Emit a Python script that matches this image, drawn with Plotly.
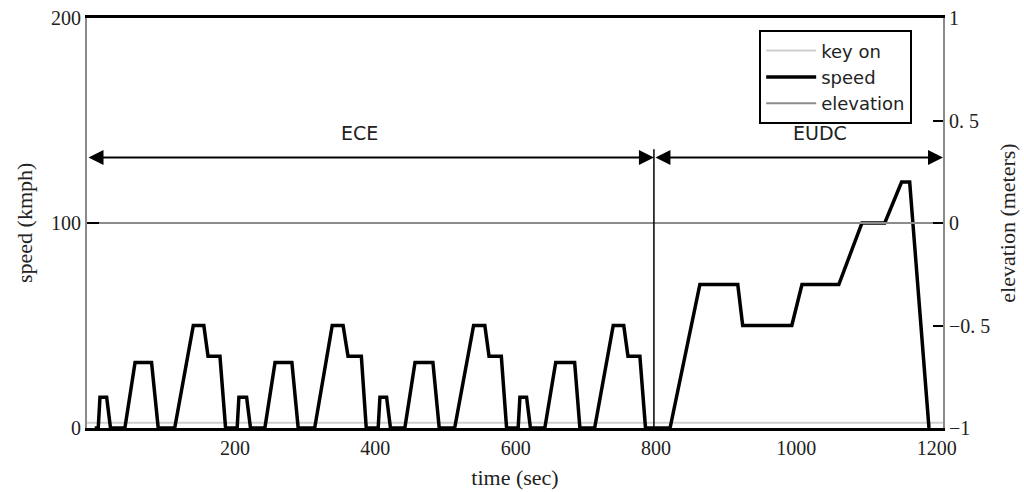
import plotly.graph_objects as go

# Driving-cycle speed trace (time in s, speed in km/h): four ECE cycles then EUDC
TIME = [0, 5, 7.5, 17, 22.5, 43, 57.5, 81, 90.5, 114, 140.5, 155.5, 161.5, 178.5, 186.5,
        203, 205.5, 216.5, 222, 242.5, 257, 281, 290, 313.5, 338.5, 354, 361, 380, 387,
        404, 406.5, 416, 421.5, 442, 456.5, 482, 491, 513, 540, 556, 562, 579.5, 587,
        603.5, 606, 615.5, 621, 641.5, 657, 684, 691.5, 712.5, 739, 754, 760, 777, 785,
        820, 862.5, 916.5, 923.5, 993.5, 1008, 1060.5, 1093.5, 1126, 1150, 1161.5, 1189]
SPEED = [0, 0, 15, 15, 0, 0, 32, 32, 0, 0, 50, 50, 35, 35, 0,
         0, 15, 15, 0, 0, 32, 32, 0, 0, 50, 50, 35, 35, 0,
         0, 15, 15, 0, 0, 32, 32, 0, 0, 50, 50, 35, 35, 0,
         0, 15, 15, 0, 0, 32, 32, 0, 0, 50, 50, 35, 35, 0,
         0, 70, 70, 50, 50, 70, 70, 100, 100, 120, 120, 0]

# Ignition signal and road elevation over the whole record
KEY_ON_T = [-11, 1209]
KEY_ON = [2.5, 2.5]
ELEV_T = [-11, 1209]
ELEVATION = [0, 0]

# Phase markers
PHASES = ["ECE", "EUDC"]
PHASE_START = [-11, 797]
PHASE_END = [797, 1209]
PHASE_LABEL_T = [378, 1033]
ARROW_SPEED = 132
LABEL_SPEED = 137.5
BOUNDARY_T = 797
BOUNDARY_TOP = 136

# Axis ticks
X_TICKS = [200, 400, 600, 800, 1000, 1200]
X_TICK_TEXT = ["200", "400", "600", "800", "1000", "1200"]
Y_TICKS = [0, 100, 200]
Y_TICK_TEXT = ["0", "100", "200"]
Y2_TICKS = [-1, -0.5, 0, 0.5, 1]
Y2_TICK_TEXT = ["\u22121", "\u22120. 5", "0", "0. 5", "1"]

SERIF = "Liberation Serif, Times New Roman, serif"
SANS = "DejaVu Sans, Arial, sans-serif"

fig = go.Figure()
fig.add_trace(go.Scatter(x=KEY_ON_T, y=KEY_ON, name="key on", mode="lines",
                         line=dict(color="#cfcfcf", width=2)))
fig.add_trace(go.Scatter(x=TIME, y=SPEED, name="speed", mode="lines",
                         line=dict(color="black", width=3.5)))
fig.add_trace(go.Scatter(x=ELEV_T, y=ELEVATION, name="elevation", mode="lines",
                         yaxis="y2", line=dict(color="#8c8c8c", width=2)))

# ECE / EUDC double-headed span arrows and labels
annotations = []
for name, t0, t1, tl in zip(PHASES, PHASE_START, PHASE_END, PHASE_LABEL_T):
    annotations.append(dict(
        x=t1, y=ARROW_SPEED, ax=t0, ay=ARROW_SPEED, xref="x", yref="y",
        axref="x", ayref="y", text="", showarrow=True,
        arrowhead=2, startarrowhead=2, arrowside="end+start",
        arrowsize=1.5, startarrowsize=1.5, arrowwidth=2, arrowcolor="black"))
    annotations.append(dict(
        x=tl, y=LABEL_SPEED, xref="x", yref="y", text=name, showarrow=False,
        yanchor="bottom", font=dict(family=SANS, size=19, color="#222")))

# Left axis title, set a little further out than the default title slot
annotations.append(dict(
    x=0, y=0.5, xref="paper", yref="paper", xanchor="center", yanchor="middle",
    xshift=-63, text="speed (kmph)", textangle=-90, showarrow=False,
    font=dict(family=SERIF, size=22, color="#222")))

fig.update_layout(
    width=1024, height=492,
    margin=dict(l=87, r=81, t=18, b=64),
    paper_bgcolor="white", plot_bgcolor="white",
    showlegend=True,
    legend=dict(x=0.964, y=0.97, xanchor="right", yanchor="top",
                bgcolor="white", bordercolor="black", borderwidth=2,
                font=dict(family=SANS, size=18, color="#222"),
                itemwidth=50, tracegroupgap=0),
    annotations=annotations,
    shapes=[dict(type="line", xref="x", yref="y", x0=BOUNDARY_T, x1=BOUNDARY_T,
                 y0=0, y1=BOUNDARY_TOP, line=dict(color="black", width=1.5))],
    xaxis=dict(range=[-11, 1209], tickvals=X_TICKS, ticktext=X_TICK_TEXT,
               automargin=False,
               showline=True, linecolor="black", linewidth=2.5, mirror=True,
               ticks="", showgrid=False, zeroline=False,
               tickfont=dict(family=SERIF, size=20, color="#222"),
               title=dict(text="time (sec)", standoff=12,
                          font=dict(family=SERIF, size=22, color="#222"))),
    yaxis=dict(range=[0, 200], tickvals=Y_TICKS, ticktext=Y_TICK_TEXT,
               automargin=False,
               showline=True, linecolor="#8a8a8a", linewidth=2,
               ticks="inside", ticklen=12, tickwidth=2, tickcolor="black",
               showgrid=False, zeroline=False,
               tickfont=dict(family=SERIF, size=20, color="#222")),
    yaxis2=dict(range=[-1, 1], overlaying="y", side="right",
                tickvals=Y2_TICKS, ticktext=Y2_TICK_TEXT, automargin=False,
                showline=True, linecolor="#8a8a8a", linewidth=2,
                ticks="inside", ticklen=10, tickwidth=2, tickcolor="black",
                showgrid=False, zeroline=False,
                tickfont=dict(family=SERIF, size=20, color="#222"),
                title=dict(text="elevation (meters)", standoff=10,
                           font=dict(family=SERIF, size=22, color="#222"))),
)

fig.write_html("out.html")
